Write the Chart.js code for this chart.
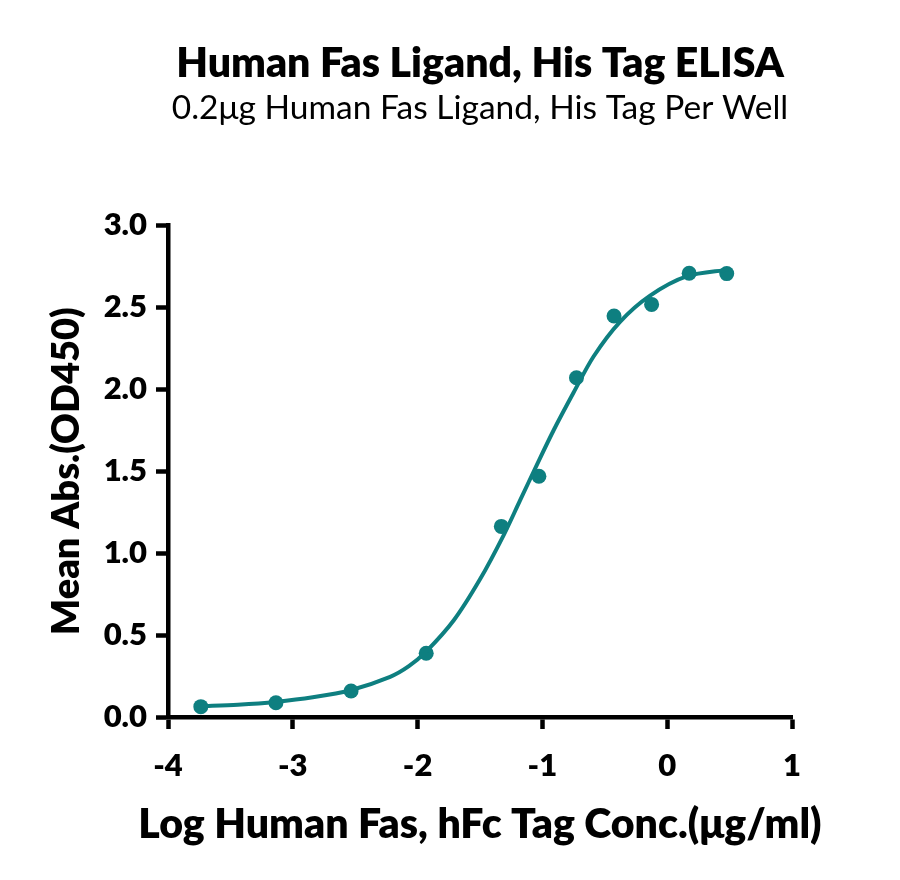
<!DOCTYPE html>
<html>
<head>
<meta charset="utf-8">
<script src="https://cdn.jsdelivr.net/npm/chart.js@4.4.1/dist/chart.umd.min.js"></script>
<style>
  html, body { margin: 0; padding: 0; background: #fff; }
  #wrap { width: 900px; height: 880px; }
</style>
</head>
<body>
<div id="wrap"><canvas id="elisaChart" width="900" height="880"></canvas></div>
<script>
// log10 of concentration (ug/ml) and mean OD450
var logConc = [-3.737, -3.135, -2.533, -1.931, -1.329, -1.028, -0.727, -0.426, -0.125, 0.176, 0.477];
var meanAbs = [0.063, 0.087, 0.159, 0.389, 1.163, 1.469, 2.07, 2.447, 2.518, 2.708, 2.706];

// fitted curve
var curveX = [-3.74, -3.44, -3.14, -2.84, -2.53, -2.22, -2.07, -1.93, -1.71, -1.50, -1.31, -1.18, -1.05, -0.91, -0.75, -0.59, -0.38, -0.14, 0.16, 0.49];
var curveY = [0.065, 0.075, 0.092, 0.12, 0.165, 0.245, 0.31, 0.40, 0.59, 0.84, 1.11, 1.32, 1.53, 1.75, 1.98, 2.20, 2.41, 2.57, 2.69, 2.73];

var xTicks = [-4, -3, -2, -1, 0, 1];
var yTicks = [0, 0.5, 1.0, 1.5, 2.0, 2.5, 3.0];

var xTitle = 'Log Human Fas, hFc Tag Conc.(\u03bcg/ml)';

var teal = '#0e7f80';
var fontFamily = 'Lato, "Noto Sans", sans-serif';

function toPoints(xs, ys) {
    var pts = [];
    for (var i = 0; i < xs.length; i++) {
        pts.push({ x: xs[i], y: ys[i] });
    }
    return pts;
}

// the built-in scale title gets squeezed to the axis width, so draw it here
var xTitlePlugin = {
    id: 'xTitlePlugin',
    afterDraw: function (chart) {
        var area = chart.chartArea;
        var c = chart.ctx;
        c.save();
        c.font = '800 41px ' + fontFamily;
        c.fillStyle = '#000';
        c.textAlign = 'center';
        c.textBaseline = 'middle';
        c.fillText(xTitle, (area.left + area.right) / 2, area.bottom + 108);
        c.restore();
    }
};

var ctx = document.getElementById('elisaChart').getContext('2d');
var chart = new Chart(ctx, {
    type: 'scatter',
    data: {
        datasets: [{
            label: 'Fit',
            data: toPoints(curveX, curveY),
            showLine: true,
            borderColor: teal,
            borderWidth: 4,
            pointRadius: 0,
            tension: 0.3,
            fill: false,
            clip: false
        }, {
            label: 'Mean Abs.',
            data: toPoints(logConc, meanAbs),
            showLine: false,
            pointRadius: 7.5,
            pointBackgroundColor: teal,
            pointBorderWidth: 0,
            clip: false
        }]
    },
    plugins: [xTitlePlugin],
    options: {
        responsive: false,
        animation: false,
        layout: {
            padding: { left: 0, right: 108, top: 0, bottom: 0 }
        },
        plugins: {
            legend: { display: false },
            tooltip: { enabled: false },
            title: {
                display: true,
                text: 'Human Fas Ligand, His Tag ELISA',
                color: '#000',
                fullSize: false,
                font: { family: fontFamily, size: 41, weight: 800, lineHeight: 1.2 },
                padding: { top: 39, bottom: 0 }
            },
            subtitle: {
                display: true,
                text: '0.2\u03bcg Human Fas Ligand, His Tag Per Well',
                color: '#000',
                fullSize: false,
                font: { family: fontFamily, size: 33.5, weight: 'normal', lineHeight: 1.2 },
                padding: { top: 0, bottom: 97 }
            }
        },
        scales: {
            x: {
                type: 'linear',
                min: -4,
                max: 1,
                afterFit: function (scale) { scale.height = 163; },
                afterBuildTicks: function (scale) {
                    scale.ticks = xTicks.map(function (v) { return { value: v }; });
                },
                border: { display: true, color: '#000', width: 4.5 },
                grid: { drawOnChartArea: false, color: '#000', tickLength: 12, tickWidth: 4.5 },
                ticks: {
                    color: '#000',
                    padding: 18,
                    font: { family: fontFamily, size: 31, weight: 800 },
                    callback: function (v) { return String(v); }
                },
                title: { display: false }
            },
            y: {
                type: 'linear',
                min: 0,
                max: 3,
                afterFit: function (scale) { scale.width = 168; },
                afterBuildTicks: function (scale) {
                    scale.ticks = yTicks.map(function (v) { return { value: v }; });
                },
                border: { display: true, color: '#000', width: 4.5 },
                grid: { drawOnChartArea: false, color: '#000', tickLength: 12, tickWidth: 4.5 },
                ticks: {
                    color: '#000',
                    padding: 9,
                    font: { family: fontFamily, size: 31, weight: 800 },
                    callback: function (v) { return v.toFixed(1); }
                },
                title: {
                    display: true,
                    text: 'Mean Abs.(OD450)',
                    color: '#000',
                    font: { family: fontFamily, size: 38, weight: 800, lineHeight: 1.2 },
                    padding: { top: 44, bottom: 0 }
                }
            }
        }
    }
});
</script>
</body>
</html>
